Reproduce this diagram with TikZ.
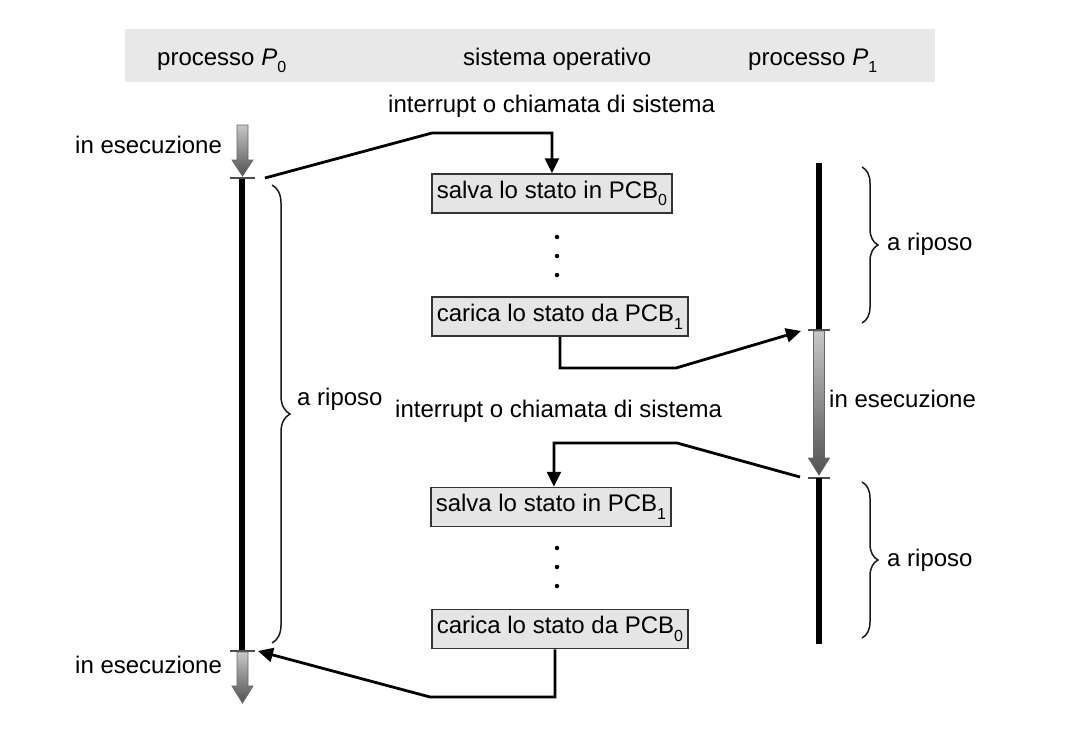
\documentclass[tikz,border=0pt]{standalone}
\usepackage{fontspec}
\setmainfont{Liberation Sans}
\usetikzlibrary{arrows.meta,decorations.pathreplacing}
\newcommand{\sbs}[1]{\raisebox{-0.6ex}{\fontsize{16}{16}\selectfont #1}}
\begin{document}
\begin{tikzpicture}[x=1pt,y=-1pt, font=\fontsize{24}{28}\selectfont,
  box/.style={draw=black!80, line width=1.5pt, fill=black!10, minimum height=39pt, inner xsep=5pt, inner ysep=0pt, anchor=west},
  conn/.style={line width=2.8pt, -{Triangle[length=15pt,width=14pt]}},
  lbl/.style={anchor=base west, inner sep=0pt},
  bar/.style={line width=6pt},
  tickmark/.style={draw=black!70, line width=1.5pt},
  brc/.style={decorate, decoration={brace, amplitude=#1}, line width=1.5pt, draw=black!90},
  garrow/.style={draw=black!60, line width=0.8pt, top color=black!22, bottom color=black!68},
  dotn/.style={circle, fill=black, inner sep=0pt, minimum size=4.5pt}]

\useasboundingbox (0,0) rectangle (1090,736);
\fill[black!9] (125,29) rectangle (935,82);

% header
\node[lbl] (h0) at (157,65) {processo \textit{P}\sbs{0}};
\node[lbl] (h1) at (463,65) {sistema operativo};
\node[lbl] (h2) at (748,65) {processo \textit{P}\sbs{1}};

% left timeline
\path[garrow] (237,125) -- (248,125) -- (248,160) -- (253,160) -- (242.5,176) -- (232,160) -- (237,160) -- cycle;
\draw[bar] (242,178) -- (242,651);
\draw[tickmark] (230,178) -- (255,178);
\draw[tickmark] (230,651) -- (255,651);
\path[garrow] (237,652) -- (248,652) -- (248,686) -- (253,686) -- (242.5,703) -- (232,686) -- (237,686) -- cycle;
\node[lbl] (le1) at (75,153) {in esecuzione};
\node[lbl] (le2) at (75,673) {in esecuzione};
\draw[brc=18] (272,185) -- (272,643);
\node[lbl] (lr) at (297,405) {a riposo};

% right timeline
\draw[bar] (819,163) -- (819,330);
\draw[tickmark] (808,330) -- (830,330);
\path[garrow] (813.5,331) -- (824.5,331) -- (824.5,458) -- (829.5,458) -- (819,475) -- (808.5,458) -- (813.5,458) -- cycle;
\draw[tickmark] (808,478) -- (830,478);
\draw[bar] (819,478) -- (819,644);
\node[lbl] (re) at (829,407) {in esecuzione};
\draw[brc=16] (862,167) -- (862,323);
\node[lbl] (rr1) at (887,250) {a riposo};
\draw[brc=16] (862,482) -- (862,638);
\node[lbl] (rr2) at (887,566) {a riposo};

% operating system column
\node[lbl] (int1) at (388,112) {interrupt o chiamata di sistema};
\node[box] (b1) at (431,193.5) {salva lo stato in PCB\sbs{0}};
\node[dotn] (d1) at (557,237) {};
\node[dotn] (d2) at (557,256) {};
\node[dotn] (d3) at (557,275) {};
\node[box] (b2) at (431,316.5) {carica lo stato da PCB\sbs{1}};

\node[lbl] (int2) at (395,417) {interrupt o chiamata di sistema};
\node[box] (b3) at (430,507) {salva lo stato in PCB\sbs{1}};
\node[dotn] (d4) at (557,548) {};
\node[dotn] (d5) at (557,567) {};
\node[dotn] (d6) at (557,586) {};
\node[box] (b4) at (431,629) {carica lo stato da PCB\sbs{0}};

% connectors
\coordinate (pA) at (265,178);
\coordinate (pB) at (801,331);
\coordinate (pC) at (800,477);
\coordinate (pD) at (258,651);
\draw[conn] (pA) -- (432,133) -| (b1.north);
\draw[conn] (b2.south) |- (676,368) -- (pB);
\draw[conn] (pC) -- (677,443) -| ([xshift=3pt]b3.north);
\draw[conn] ([xshift=-5pt]b4.south) |- (430,697) -- (pD);
\end{tikzpicture}
\end{document}
